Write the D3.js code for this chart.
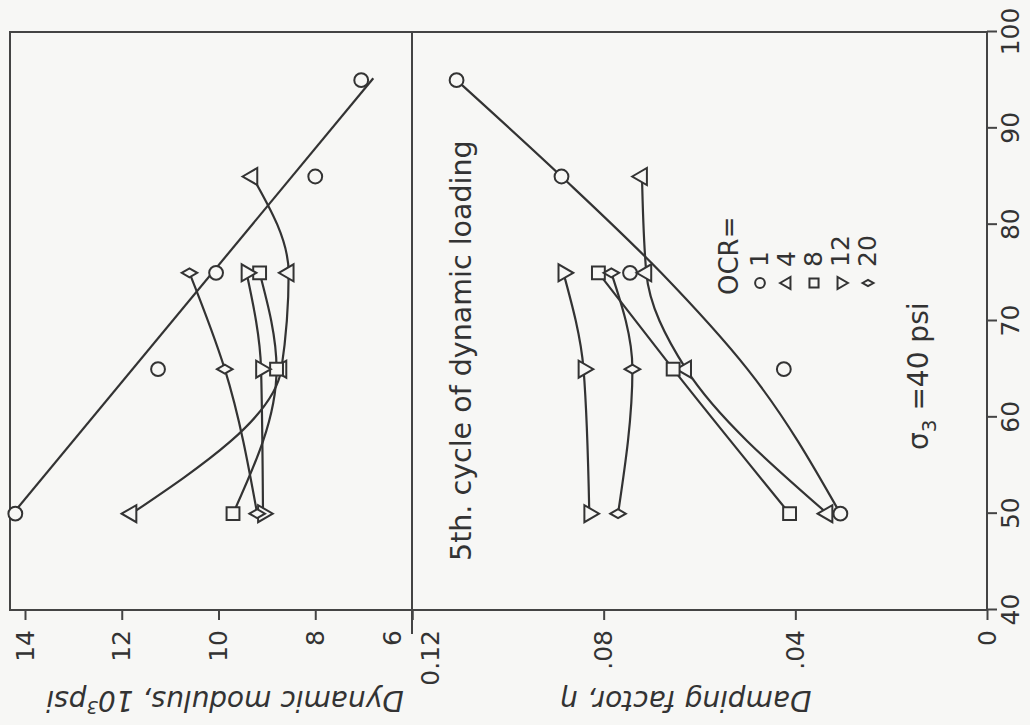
<!DOCTYPE html>
<meta charset="utf-8">
<script src="https://d3js.org/d3.v7.min.js"></script>

<div id="my_dataviz"></div>

<style>
  body { margin: 0; background: #f7f7f5; }
  svg { display: block; }
  .tick text { font-family: "DejaVu Sans"; font-size: 25px; fill: #333; }
  .tick line, .domain { stroke: #444; stroke-width: 2; }
  .lbl { font-family: "DejaVu Sans"; fill: #333; }
</style>

<script>
  // x axis values (shared by both panels)
  var xTicks = [40, 50, 60, 70, 80, 90, 100];
  var xValues = [50, 65, 75, 85, 95];

  // dynamic modulus, 10^3 psi, per OCR
  var modTicks = [6, 8, 10, 12, 14];
  var modOCR1 = [14.2, 11.25, 10.05, 8.0, 7.05];
  var modOCR4 = [11.8, 8.7, 8.55, 9.3];
  var modOCR8 = [9.7, 8.8, 9.15];
  var modOCR12 = [9.08, 9.12, 9.42];
  var modOCR20 = [9.2, 9.87, 10.6];
  // straight line drawn for OCR = 1
  var modFitX = [50, 95.2];
  var modFitOCR1 = [14.25, 6.8];

  // damping factor per OCR
  var dampTicks = [0, 0.04, 0.08, 0.12];
  var dampTickLabels = ["0", ".04", ".08", "0.12"];
  var dampOCR1 = [0.0306, 0.0424, 0.0745, 0.0888, 0.1107];
  var dampOCR4 = [0.0333, 0.0628, 0.0711, 0.0720];
  var dampOCR8 = [0.0412, 0.0655, 0.0811];
  var dampOCR12 = [0.0830, 0.0842, 0.0884];
  var dampOCR20 = [0.0770, 0.0740, 0.0784];
  // curve drawn for OCR = 1
  var dampFitX = [50, 65, 75, 85, 95];
  var dampFitOCR1 = [0.0306, 0.0500, 0.0680, 0.0888, 0.1107];

  var ocrLabels = ["1", "4", "8", "12", "20"];

  // The figure is printed turned a quarter turn, so everything is drawn in an
  // upright frame (width 725, height 1030) and then rotated onto the page.
  var W = 725;
  var ink = "#333";

  var svg = d3.select("#my_dataviz")
    .append("svg")
      .attr("width", 1030)
      .attr("height", 725);
  svg.append("rect").attr("width", 1030).attr("height", 725).attr("fill", "#f7f7f5");

  var g = svg.append("g")
      .attr("transform", "translate(0," + W + ") rotate(-90)");

  var x = d3.scaleLinear().domain([40, 100]).range([115, 693]);
  var yMod = d3.scaleLinear().domain([6, 14]).range([412, 25]);
  var yDamp = d3.scaleLinear().domain([0, 0.12]).range([987, 412]);
  var frameTop = 10, frameBottom = yDamp(0);

  // frame and panel divider
  g.append("rect")
    .attr("x", x(40)).attr("y", frameTop)
    .attr("width", x(100) - x(40)).attr("height", frameBottom - frameTop)
    .attr("fill", "none").attr("stroke", "#444").attr("stroke-width", 2);
  g.append("line")
    .attr("x1", x(40) - 24).attr("x2", x(100))
    .attr("y1", yMod(6)).attr("y2", yMod(6))
    .attr("stroke", "#444").attr("stroke-width", 2);

  // axes
  var axMod = g.append("g")
    .attr("transform", "translate(" + x(40) + ",0)")
    .call(d3.axisLeft(yMod).tickValues(modTicks).tickSize(10).tickPadding(10));
  var axDamp = g.append("g")
    .attr("transform", "translate(" + x(40) + ",0)")
    .call(d3.axisLeft(yDamp).tickValues(dampTicks).tickSize(10).tickPadding(10)
      .tickFormat(function(d, i) { return dampTickLabels[i]; }));
  g.append("g")
    .attr("transform", "translate(0," + frameBottom + ")")
    .call(d3.axisBottom(x).tickValues(xTicks).tickSize(10).tickPadding(4));
  g.selectAll(".domain").remove();

  // the "6" and "0.12" labels share the divider, push them apart
  axMod.selectAll(".tick").filter(function(d) { return d === 6; })
    .select("text").attr("dy", "-0.45em");
  axDamp.selectAll(".tick").filter(function(d) { return d === 0.12; })
    .select("text").attr("dy", "1.05em");

  // axis titles
  g.append("text")
    .attr("class", "lbl")
    .attr("transform", "translate(34," + 225 + ") rotate(-90)")
    .attr("text-anchor", "middle")
    .style("font-size", "28px").style("font-style", "italic")
    .html('Dynamic modulus, 10<tspan dy="-10" font-size="18px">3</tspan><tspan dy="10">psi</tspan>');
  g.append("text")
    .attr("class", "lbl")
    .attr("transform", "translate(34," + 686 + ") rotate(-90)")
    .attr("text-anchor", "middle")
    .style("font-size", "28px").style("font-style", "italic")
    .text("Damping factor, \u03b7");

  // series
  var shapes = [d3.symbolCircle, d3.symbolTriangle, d3.symbolSquare, d3.symbolTriangle, d3.symbolDiamond];
  var sizes = [150, 125, 165, 125, 70];
  var turns = [0, 0, 0, 180, 0];
  var modSets = [modOCR1, modOCR4, modOCR8, modOCR12, modOCR20];
  var dampSets = [dampOCR1, dampOCR4, dampOCR8, dampOCR12, dampOCR20];

  function pts(vals, xs) {
    return vals.map(function(v, i) { return [xs[i], v]; });
  }

  function drawPanel(sets, yScale, fitX, fitVals, fitCurve) {
    var line = d3.line()
      .x(function(d) { return x(d[0]); })
      .y(function(d) { return yScale(d[1]); });

    // OCR = 1 has its own fitted line
    g.append("path")
      .datum(pts(fitVals, fitX))
      .attr("fill", "none").attr("stroke", ink).attr("stroke-width", 2.2)
      .attr("d", line.curve(fitCurve));

    sets.forEach(function(vals, k) {
      if (k > 0) {
        g.append("path")
          .datum(pts(vals, xValues))
          .attr("fill", "none").attr("stroke", ink).attr("stroke-width", 2.2)
          .attr("d", line.curve(d3.curveMonotoneX));
      }
    });

    sets.forEach(function(vals, k) {
      g.append("g").selectAll("path")
        .data(pts(vals, xValues))
        .enter()
        .append("path")
          .attr("d", d3.symbol().type(shapes[k]).size(sizes[k]))
          .attr("transform", function(d) {
            return "translate(" + x(d[0]) + "," + yScale(d[1]) + ") rotate(" + turns[k] + ")";
          })
          .attr("fill", "#f7f7f5")
          .attr("stroke", ink)
          .attr("stroke-width", 2);
    });
  }

  drawPanel(modSets, yMod, modFitX, modFitOCR1, d3.curveLinear);
  drawPanel(dampSets, yDamp, dampFitX, dampFitOCR1, d3.curveMonotoneX);

  // notes
  g.append("text")
    .attr("class", "lbl")
    .attr("x", 164).attr("y", 471)
    .style("font-size", "28.5px")
    .text("5th. cycle of dynamic loading");

  g.append("text")
    .attr("class", "lbl")
    .attr("x", 275).attr("y", 928)
    .style("font-size", "28px")
    .html('\u03c3<tspan dy="8" font-size="20px">3</tspan><tspan dy="-8"> =40 psi</tspan>');

  // legend
  var legend = g.append("g").attr("transform", "translate(430,0)");
  legend.append("text")
    .attr("class", "lbl")
    .attr("x", 0).attr("y", 738)
    .style("font-size", "26px")
    .text("OCR=");
  ocrLabels.forEach(function(lab, k) {
    var yy = 768 + k * 27;
    legend.append("path")
      .attr("d", d3.symbol().type(shapes[k]).size(sizes[k] * 0.5))
      .attr("transform", "translate(12," + (yy - 8) + ") rotate(" + turns[k] + ")")
      .attr("fill", "none").attr("stroke", ink).attr("stroke-width", 2);
    legend.append("text")
      .attr("class", "lbl")
      .attr("x", 28).attr("y", yy)
      .style("font-size", "25px")
      .text(lab);
  });
</script>
